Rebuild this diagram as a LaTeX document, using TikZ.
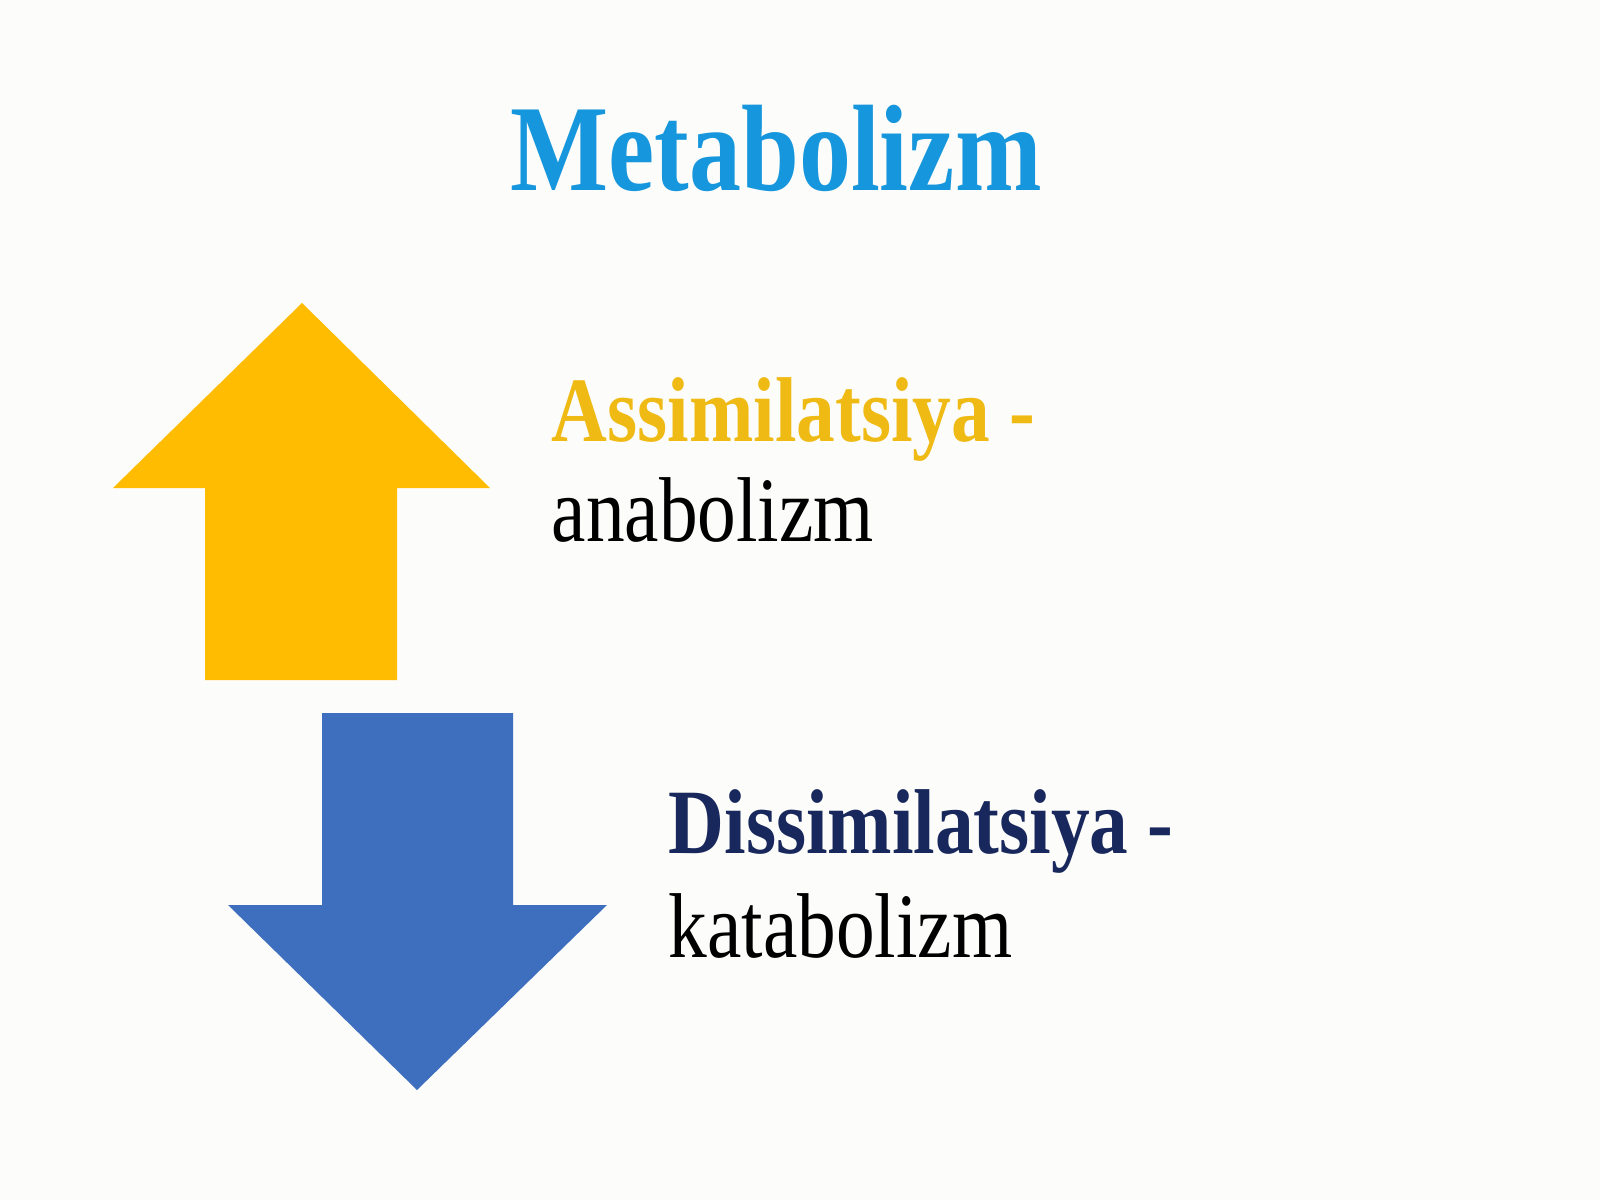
\documentclass[tikz,border=0pt]{standalone}
\usepackage{fontspec}
\newfontfamily\slidefont[FakeStretch=0.84]{Liberation Serif}
\newfontfamily\titlefont[FakeStretch=0.845]{Liberation Serif}
\definecolor{pagebg}{RGB}{252,252,250}
\definecolor{titleblue}{RGB}{22,150,220}
\definecolor{upyellow}{RGB}{255,188,0}
\definecolor{downblue}{RGB}{62,110,190}
\definecolor{termgold}{RGB}{240,186,20}
\definecolor{termnavy}{RGB}{24,40,92}

\begin{document}
\begin{tikzpicture}[x=0.1mm,y=-0.1mm]
    \tikzstyle{heading}=[anchor=base,inner sep=0pt,text=titleblue,font=\titlefont\bfseries\fontsize{35}{40}\selectfont]
    \tikzstyle{term}=[anchor=base west,inner sep=0pt,font=\slidefont\bfseries\fontsize{26.2}{30}\selectfont]
    \tikzstyle{gloss}=[anchor=base west,inner sep=0pt,text=black,font=\slidefont\fontsize{26.2}{30}\selectfont]

        \fill[pagebg] (0,0) rectangle (1600,1200);

        \node[heading] (title) at (776,191) {Metabolizm};

        % up arrow
        \fill[upyellow] (302,303) -- (490,488) -- (397,488) -- (397,680)
            -- (205,680) -- (205,488) -- (113,488) -- cycle;
        % down arrow
        \fill[downblue] (322,713) -- (513,713) -- (513,905) -- (607,905)
            -- (417,1090) -- (228,905) -- (322,905) -- cycle;

        \node[term,text=termgold] (assim) at (551,441) {Assimilatsiya -};
        \node[gloss] (anabol) at (551,542) {anabolizm};

        \node[term,text=termnavy] (dissim) at (668,853) {Dissimilatsiya -};
        \node[gloss] (katabol) at (668,957) {katabolizm};
\end{tikzpicture}
\end{document}
